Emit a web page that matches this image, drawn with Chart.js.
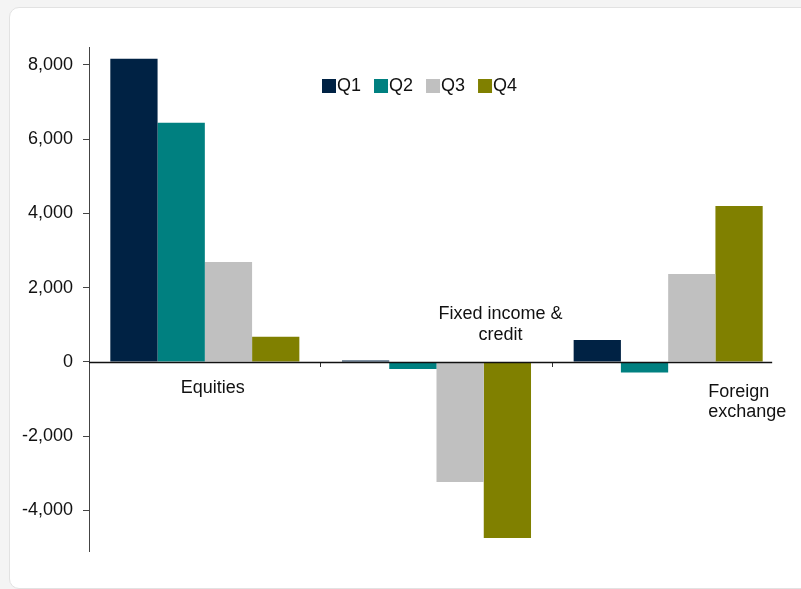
<!DOCTYPE html>
<html>
<head>
<meta charset="utf-8">
<script src="https://cdn.jsdelivr.net/npm/chart.js@4"></script>
<style>
  html, body { margin: 0; padding: 0; background: #f4f4f4; }
  #frame {
    position: absolute; left: 9px; top: 7px; width: 810px; height: 580px;
    background: #fff; border: 1px solid #e2e2e2; border-radius: 10px;
  }
  #wrap { position: absolute; left: 0; top: 0; width: 801px; height: 589px; }
</style>
</head>
<body>
<div id="frame"></div>
<div id="wrap"><canvas id="tradingChart" width="801" height="589"></canvas></div>
<script>
// categories and quarterly values
var categories = ["Equities", "Fixed income & credit", "Foreign exchange"];
var seriesNames = ["Q1", "Q2", "Q3", "Q4"];
var q1 = [8162, 40, 593];
var q2 = [6438, -189, -285];
var q3 = [2694, -3232, 2370];
var q4 = [680, -4741, 4202];
var yTicks = [-4000, -2000, 0, 2000, 4000, 6000, 8000];
var colors = ["#002244", "#008080", "#c0c0c0", "#808000"];

var FONT = "'Liberation Sans', Arial, sans-serif";

// zero line stops a little short of the plot edge, as in the original
var zeroLinePlugin = {
    id: "zeroLine",
    afterDatasetsDraw: function (chart) {
        var c = chart.ctx, xs = chart.scales.x, zero = Math.round(chart.scales.y.getPixelForValue(0)) + 0.5;
        c.save();
        c.strokeStyle = "#111";
        c.lineWidth = 1.3;
        c.beginPath();
        c.moveTo(chart.chartArea.left, zero);
        c.lineTo(xs.getPixelForValue(categories.length - 1) + 104, zero);
        c.stroke();
        c.restore();
    }
};

// category labels sit around the zero line, like the original
var catLabelPlugin = {
    id: "catLabels",
    afterDraw: function (chart) {
        var c = chart.ctx, xs = chart.scales.x, zero = chart.scales.y.getPixelForValue(0);
        c.save();
        c.font = "18px " + FONT;
        c.fillStyle = "#111";
        c.textBaseline = "alphabetic";
        c.textAlign = "center";
        c.fillText("Equities", xs.getPixelForValue(0) + 8, zero + 31);
        c.fillText("Fixed income &", xs.getPixelForValue(1) + 64, zero - 43);
        c.fillText("credit", xs.getPixelForValue(1) + 64, zero - 22);
        c.textAlign = "left";
        c.fillText("Foreign", xs.getPixelForValue(2) + 40, zero + 35);
        c.fillText("exchange", xs.getPixelForValue(2) + 40, zero + 55);
        c.restore();
    }
};

var legendPlugin = {
    id: "smallLegend",
    afterDraw: function (chart) {
        var c = chart.ctx;
        var x = 322, y = 79;
        c.save();
        c.font = "18px " + FONT;
        c.textBaseline = "alphabetic";
        c.textAlign = "left";
        chart.data.datasets.forEach(function (ds) {
            c.fillStyle = ds.backgroundColor;
            c.fillRect(x, y, 14, 14);
            c.fillStyle = "#111";
            c.fillText(ds.label, x + 15, y + 12);
            x += 15 + c.measureText(ds.label).width + 13;
        });
        c.restore();
    }
};

var seriesData = [q1, q2, q3, q4];
var data = {
    labels: categories,
    datasets: seriesNames.map(function (name, i) {
        return {
            label: name,
            data: seriesData[i],
            backgroundColor: colors[i],
            borderWidth: 0,
            categoryPercentage: 0.816,
            barPercentage: 1
        };
    })
};

var ctx = document.getElementById("tradingChart").getContext("2d");
var chartBar = new Chart(ctx, {
    type: "bar",
    data: data,
    plugins: [zeroLinePlugin, catLabelPlugin, legendPlugin],
    options: {
        responsive: false,
        animation: false,
        layout: { padding: { left: 0, top: 47, right: 17, bottom: 38 } },
        plugins: {
            legend: { display: false },
            tooltip: { enabled: false }
        },
        scales: {
            x: {
                position: { y: 0 },
                grid: {
                    offset: true,
                    drawOnChartArea: false,
                    tickLength: 5,
                    tickWidth: 1,
                    tickColor: function (c) {
                        return (c.type !== "tick" || c.index === 0) ? "rgba(0,0,0,0)" : "#333";
                    }
                },
                border: { display: false },
                ticks: { display: false }
            },
            y: {
                min: -5090,
                max: 8480,
                afterBuildTicks: function (scale) {
                    scale.ticks = yTicks.map(function (v) { return { value: v }; });
                },
                afterFit: function (scale) { scale.width = 89; },
                grid: { drawOnChartArea: false, tickLength: 6, tickColor: "#444" },
                border: { display: true, color: "#444", width: 1 },
                ticks: {
                    padding: 10,
                    color: "#111",
                    font: { family: FONT, size: 18 },
                    callback: function (v) { return v.toLocaleString("en-US"); }
                }
            }
        }
    }
});
</script>
</body>
</html>
